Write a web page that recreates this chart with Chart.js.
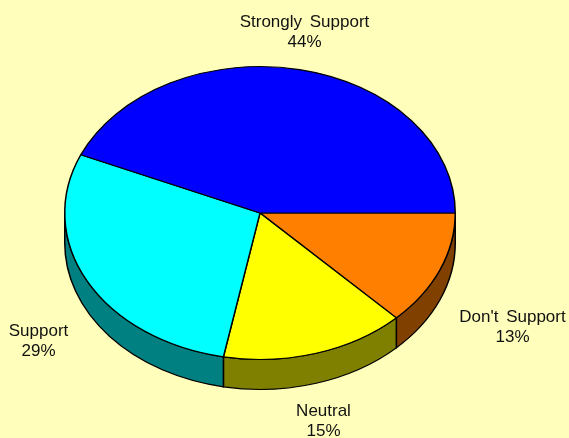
<!DOCTYPE html>
<html>
<head>
<meta charset="utf-8">
<title>Support</title>
<style>
html, body { margin: 0; padding: 0; background: #ffffbb; }
canvas { display: block; }
</style>
<script src="https://cdn.jsdelivr.net/npm/chart.js@4"></script>
</head>
<body>
<canvas id="pie" width="569" height="438"></canvas>
<script>
const categories = ["Don't Support", 'Neutral', 'Support', 'Strongly Support'];
const values = [12.7, 15.3, 28.5, 43.5];
const percentLabels = ['13%', '15%', '29%', '44%'];
const topColors = ['#ff8000', '#ffff00', '#00ffff', '#0000ff'];
const sideColors = ['#804000', '#808000', '#008080', '#000080'];

const tilt = 0.75;      // ellipse height / width
const depth = 30;       // wall height in screen pixels
const labelSpots = [[512.5, 317], [323.5, 411], [38.5, 331], [304.5, 22]];

// squash the round pie into a tilted disc and put the wall under it
const tiltPlugin = {
    id: 'tilt',
    beforeDatasetsDraw(chart) {
        const ctx = chart.ctx;
        const arcs = chart.getDatasetMeta(0).data;
        const cx = arcs[0].x;
        const cy = arcs[0].y;
        ctx.save();
        ctx.translate(cx, cy);
        ctx.scale(1, tilt);
        ctx.translate(-cx, -cy);

        ctx.lineWidth = 1.5;
        ctx.strokeStyle = '#000000';
        arcs.forEach((arc, i) => {
            const a0 = Math.max(arc.startAngle, 0);
            const a1 = Math.min(arc.endAngle, Math.PI);
            if (a1 <= a0) return;
            ctx.beginPath();
            ctx.arc(cx, cy, arc.outerRadius, a0, a1);
            ctx.arc(cx, cy + depth / tilt, arc.outerRadius, a1, a0, true);
            ctx.closePath();
            ctx.fillStyle = sideColors[i];
            ctx.fill();
            ctx.stroke();
        });
    },
    afterDatasetsDraw(chart) {
        chart.ctx.restore();
    },
    afterDraw(chart) {
        const ctx = chart.ctx;
        ctx.save();
        ctx.fillStyle = '#111111';
        ctx.font = '17px "Liberation Sans", Arial, sans-serif';
        ctx.wordSpacing = '3px';
        ctx.textAlign = 'center';
        ctx.textBaseline = 'middle';
        categories.forEach((name, i) => {
            const [x, y] = labelSpots[i];
            ctx.fillText(name, x, y);
            ctx.fillText(percentLabels[i], x, y + 20);
        });
        ctx.restore();
    },
};

new Chart(document.getElementById('pie'), {
    type: 'pie',
    data: {
        labels: categories,
        datasets: [{
            data: values,
            backgroundColor: topColors,
            borderColor: '#000000',
            borderWidth: 1.5,
            borderAlign: 'center',
        }],
    },
    options: {
        responsive: false,
        animation: false,
        rotation: 90,
        layout: { padding: { left: 64, right: 113, top: 17, bottom: 29 } },
        plugins: {
            legend: { display: false },
            tooltip: { enabled: false },
        },
    },
    plugins: [tiltPlugin],
});
</script>
</body>
</html>
